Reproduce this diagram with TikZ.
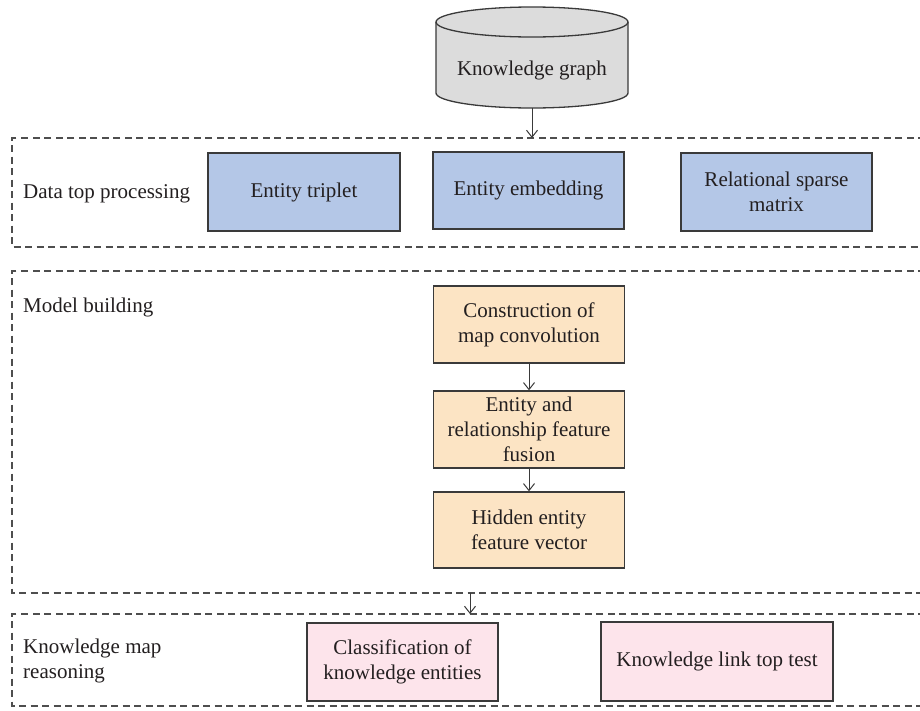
\documentclass[tikz,border=0pt]{standalone}
\usepackage{fontspec}
\setmainfont{Liberation Serif}
\usetikzlibrary{arrows.meta}
\definecolor{txt}{HTML}{231F20}
\definecolor{edge}{HTML}{3A3A3A}
\definecolor{bluef}{HTML}{B4C7E7}
\definecolor{orangef}{HTML}{FCE4C4}
\definecolor{pinkf}{HTML}{FDE4EB}
\definecolor{grayf}{HTML}{DCDCDC}
\tikzset{
  box/.style={draw=edge, line width=1.3pt, align=center, inner sep=0pt, text=txt,
    font=\fontsize{21}{25}\selectfont},
  bluebox/.style={box, fill=bluef},
  orangebox/.style={box, fill=orangef},
  pinkbox/.style={box, fill=pinkf},
  lbl/.style={inner sep=0pt, text=txt, align=left, font=\fontsize{21}{24.5}\selectfont},
  frame/.style={draw=edge!90!white, line width=1.2pt, dash pattern=on 7pt off 4.5pt},
  conn/.style={draw=edge, line width=1pt, -{Straight Barb[length=7pt,width=11pt,line width=1pt]}}
}
\begin{document}
\begin{tikzpicture}[x=1pt,y=-1pt]
\useasboundingbox (0,0) rectangle (920,710);
\fill[white] (0,0) rectangle (920,710);

% cylinder
\filldraw[fill=grayf, draw=edge, line width=1.3pt]
  (436,22) -- (436,93) arc[start angle=180, end angle=360, x radius=96pt, y radius=15pt]
  -- (628,22) arc[start angle=0, end angle=180, x radius=96pt, y radius=15pt] -- cycle;
\draw[draw=edge, line width=1.3pt] (436,22) arc[start angle=180, end angle=360, x radius=96pt, y radius=15pt];
\node[lbl, anchor=base] (kg) at (532,75) {Knowledge graph};
\coordinate (kgb) at (532,108);

% frames
\coordinate (f1t) at (532,138);
\coordinate (f2b) at (470,593);
\coordinate (f3t) at (470,614);
\draw[frame] (925,138) -- (12,138) -- (12,247) -- (925,247);
\draw[frame] (925,271) -- (12,271) -- (12,593) -- (925,593);
\draw[frame] (925,614) -- (12,614) -- (12,706) -- (925,706);

% labels
\node[lbl, anchor=base west] (l1) at (23,198) {Data top processing};
\node[lbl, anchor=base west] (l2) at (23,312) {Model building};
\node[lbl, anchor=west] (l3) at (23,661) {Knowledge map\\reasoning};

% data processing boxes
\node[bluebox, minimum width=192pt, minimum height=78pt] (trip) at (304,192) {Entity triplet};
\node[bluebox, minimum width=191pt, minimum height=77pt] (emb) at (528.5,190.5) {Entity embedding};
\node[bluebox, minimum width=191pt, minimum height=78pt] (rel) at (776.5,192) {Relational sparse\\matrix};

% model building boxes
\node[orangebox, minimum width=191pt, minimum height=77pt] (conv) at (529,324.5) {Construction of\\map convolution};
\node[orangebox, minimum width=191pt, minimum height=77pt] (er) at (529,429.5) {Entity and\\relationship feature\\fusion};
\node[orangebox, minimum width=191pt, minimum height=76pt] (hid) at (529,530) {Hidden entity\\feature vector};

% reasoning boxes
\node[pinkbox, minimum width=191pt, minimum height=78pt] (cls) at (402.5,662) {Classification of\\knowledge entities};
\node[pinkbox, minimum width=232pt, minimum height=79pt] (link) at (717,661.5) {Knowledge link top test};

% connectors
\draw[conn] (kgb) -- (f1t);
\draw[conn] (conv.south) -- (er.north);
\draw[conn] (er.south) -- (hid.north);
\draw[conn] (f2b) -- (f3t);
\end{tikzpicture}
\end{document}
